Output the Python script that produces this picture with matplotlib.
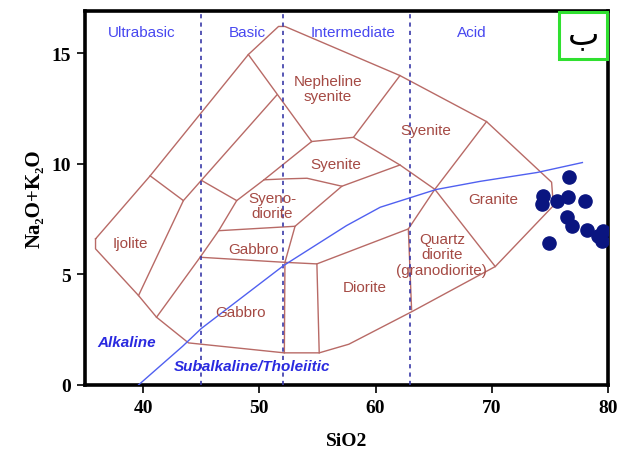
import matplotlib
matplotlib.use("Agg")
import matplotlib.pyplot as plt
from matplotlib.patches import Rectangle

# outer field boundary (closed)
outer_si = [35.9, 40.6, 49.05, 51.65, 52.2, 62.1, 69.55, 75.15, 75.3, 70.3, 63.15, 57.7, 55.15, 52.15, 43.9, 41.15, 39.6, 35.9, 35.9]
outer_alk = [6.6, 9.45, 14.93, 16.2, 16.2, 13.98, 11.9, 9.16, 8.1, 5.35, 3.32, 1.84, 1.45, 1.45, 1.9, 3.06, 4.04, 6.15, 6.6]

# internal field boundaries
ijolite_si = [40.6, 43.46, 39.6]
ijolite_alk = [9.45, 8.33, 4.04]
left_diag_si = [43.46, 51.5]
left_diag_alk = [8.33, 13.1]
neph_left_si = [49.05, 54.5]
neph_left_alk = [14.93, 11.0]
short_si = [45.0, 48.05]
short_alk = [9.25, 8.33]
gabbro_left_si = [41.15, 44.9, 46.5, 48.05, 50.4, 54.5]
gabbro_left_alk = [3.06, 5.77, 6.97, 8.33, 9.27, 11.0]
neph_bottom_si = [54.5, 58.1, 62.1]
neph_bottom_alk = [11.0, 11.19, 13.98]
syenite_diag_si = [58.1, 62.1, 65.1, 70.3]
syenite_diag_alk = [11.19, 9.94, 8.84, 5.35]
granite_left_si = [69.55, 65.1, 62.82, 63.1]
granite_left_alk = [11.9, 8.84, 7.05, 3.4]
syenodiorite_top_si = [50.4, 52.1, 54.1, 57.1, 62.1]
syenodiorite_top_alk = [9.27, 9.31, 9.34, 8.98, 9.94]
syenodiorite_right_si = [57.1, 53.07, 52.2, 52.15]
syenodiorite_right_alk = [8.98, 7.17, 5.54, 1.45]
gabbro_top_si = [46.5, 53.07]
gabbro_top_alk = [6.97, 7.17]
diorite_top_si = [44.9, 52.2, 54.95, 62.82]
diorite_top_alk = [5.77, 5.54, 5.47, 7.05]
diorite_left_si = [54.95, 55.15]
diorite_left_alk = [5.47, 1.45]

# Irvine & Baragar alkaline / subalkaline divide
ib_si = [39.6, 43.4, 45.0, 52.1, 57.5, 60.4, 65.2, 69.0, 73.9, 77.8]
ib_alk = [0.0, 1.75, 2.55, 5.4, 7.2, 8.03, 8.83, 9.2, 9.6, 10.05]

# samples
sample_si = [76.65, 74.44, 74.3, 75.65, 76.54, 78.03, 76.45, 76.88, 78.23, 79.18, 79.6, 79.46, 74.96]
sample_alk = [9.41, 8.56, 8.18, 8.33, 8.48, 8.33, 7.58, 7.17, 7.02, 6.72, 6.97, 6.52, 6.42]

silica_divs = [45, 52, 63]
class_names = ["Ultrabasic", "Basic", "Intermediate", "Acid"]
class_x = [39.9, 49.0, 58.1, 68.3]

rock_names = ["Nepheline\nsyenite", "Syenite", "Syenite", "Syeno-\ndiorite", "Granite",
              "Gabbro", "Ijolite", "Quartz\ndiorite\n(granodiorite)", "Diorite", "Gabbro"]
rock_x = [55.9, 64.3, 56.6, 51.1, 70.1, 49.5, 38.9, 65.7, 59.1, 48.4]
rock_y = [13.4, 11.5, 10.0, 8.1, 8.4, 6.15, 6.42, 5.9, 4.43, 3.3]

line_col = "#b86a66"
text_col = "#a54a44"

fig = plt.figure(figsize=(6.21, 4.60), dpi=100)
ax = fig.add_axes([0.137, 0.161, 0.842, 0.813])

for xs, ys in [(outer_si, outer_alk), (ijolite_si, ijolite_alk), (left_diag_si, left_diag_alk),
               (neph_left_si, neph_left_alk), (short_si, short_alk), (gabbro_left_si, gabbro_left_alk),
               (neph_bottom_si, neph_bottom_alk), (syenite_diag_si, syenite_diag_alk),
               (granite_left_si, granite_left_alk), (syenodiorite_top_si, syenodiorite_top_alk),
               (syenodiorite_right_si, syenodiorite_right_alk), (gabbro_top_si, gabbro_top_alk),
               (diorite_top_si, diorite_top_alk), (diorite_left_si, diorite_left_alk)]:
    ax.plot(xs, ys, color=line_col, lw=1.0, zorder=2)

for sx in silica_divs:
    ax.axvline(sx, color="#3a3aa8", lw=1.2, ls=(0, (2.5, 2.5)), zorder=3)

ax.plot(ib_si, ib_alk, color="#5060f0", lw=1.0, zorder=3)

ax.scatter(sample_si, sample_alk, s=90, color="#0a1580", zorder=5, clip_on=True)

for name, x in zip(class_names, class_x):
    ax.text(x, 15.95, name, color="#4848f0", fontsize=11, family="Liberation Sans",
            ha="center", va="center")

for name, x, y in zip(rock_names, rock_x, rock_y):
    ax.text(x, y, name, color=text_col, fontsize=11, family="Liberation Sans",
            ha="center", va="center", linespacing=1.12)

ax.text(38.6, 1.94, "Alkaline", color="#2a2ae0", fontsize=11, family="Liberation Sans",
        style="italic", weight="bold", ha="center", va="center")
ax.text(49.4, 0.85, "Subalkaline/Tholeiitic", color="#2a2ae0", fontsize=11,
        family="Liberation Sans", style="italic", weight="bold", ha="center", va="center")

# marker box in the corner
ax.add_patch(Rectangle((0.906, 0.871), 0.092, 0.127, transform=ax.transAxes, fill=False,
                       edgecolor="#30e030", lw=2.2, zorder=7, clip_on=False))
ax.text(0.953, 0.94, "ب", transform=ax.transAxes, fontsize=24, family="DejaVu Sans",
        ha="center", va="center", color="black", zorder=8)

ax.set_xlim(35, 80)
ax.set_ylim(0, 16.9)
ax.set_xticks([40, 50, 60, 70, 80])
ax.set_yticks([0, 5, 10, 15])
for sp in ax.spines.values():
    sp.set_linewidth(2.6)
ax.tick_params(direction="out", length=6, width=1.2, pad=4)
for lab in ax.get_xticklabels() + ax.get_yticklabels():
    lab.set_fontfamily("Liberation Serif")
    lab.set_fontweight("bold")
    lab.set_fontsize(14)

ax.set_xlabel("SiO2", family="Liberation Serif", weight="bold", fontsize=14, labelpad=12)
ax.set_ylabel("Na₂O+K₂O", family=["Liberation Serif", "DejaVu Serif"], weight="bold",
              fontsize=15, labelpad=5)

fig.savefig("out.png", dpi=100)
